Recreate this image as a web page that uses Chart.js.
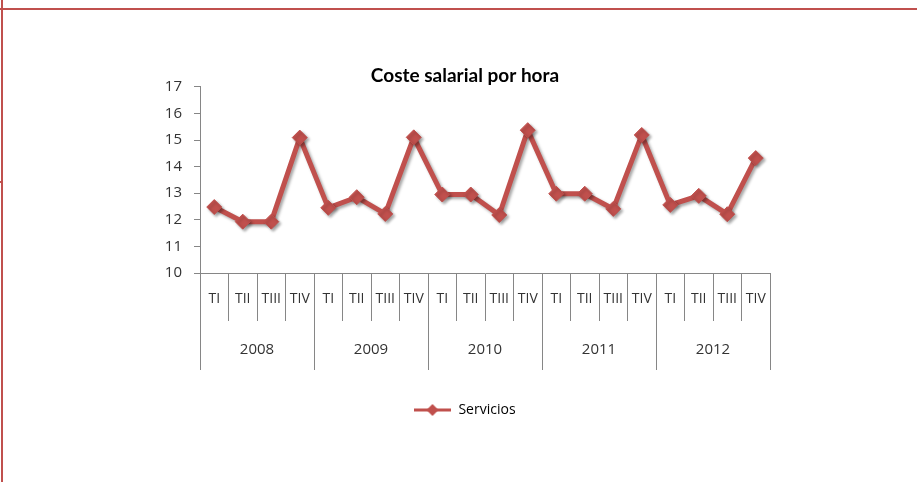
<!DOCTYPE html>
<html>
<head>
<meta charset="utf-8">
<script src="https://cdn.jsdelivr.net/npm/chart.js@4.4.1/dist/chart.umd.min.js"></script>
<style>
  html, body { margin: 0; padding: 0; background: #fff; }
  #wrap { position: relative; width: 917px; height: 482px; overflow: hidden; }
  .frameTop { position: absolute; left: 0; top: 8px; width: 917px; height: 2px; background: #C0504D; }
  .frameLeft { position: absolute; left: 1px; top: 0; width: 2px; height: 482px; background: #C0504D; }
  .mark { position: absolute; left: 0; top: 181px; width: 3px; height: 2px; background: #C0504D; }
  canvas { position: absolute; left: 0; top: 0; }
</style>
</head>
<body>
<div id="wrap">
  <canvas id="myChart" width="917" height="482"></canvas>
  <div class="frameTop"></div>
  <div class="frameLeft"></div>
  <div class="mark"></div>
</div>
<script>
const years = ['2008', '2009', '2010', '2011', '2012'];
const quarters = ['TI', 'TII', 'TIII', 'TIV'];
const labels = years.flatMap(() => quarters);
const servicios = [
  12.48, 11.93, 11.93, 15.09,
  12.45, 12.85, 12.22, 15.10,
  12.95, 12.95, 12.18, 15.37,
  12.98, 12.98, 12.41, 15.19,
  12.56, 12.90, 12.21, 14.32
];

const red = '#C0504D';
const axisGray = '#868686';
const sans = '"Open Sans", sans-serif';

// legend icon: line with a diamond in the middle
const legendIcon = document.createElement('canvas');
legendIcon.width = 37;
legendIcon.height = 14;
(function () {
  const c = legendIcon.getContext('2d');
  c.strokeStyle = red;
  c.lineWidth = 3;
  c.beginPath();
  c.moveTo(0, 7);
  c.lineTo(37, 7);
  c.stroke();
  c.fillStyle = red;
  c.beginPath();
  c.moveTo(18, 1);
  c.lineTo(24, 7);
  c.lineTo(18, 13);
  c.lineTo(12, 7);
  c.closePath();
  c.fill();
})();

const shadowPlugin = {
  id: 'shadow',
  beforeDatasetsDraw(chart) {
    const ctx = chart.ctx;
    ctx.save();
    ctx.shadowColor = 'rgba(0,0,0,0.35)';
    ctx.shadowBlur = 3;
    ctx.shadowOffsetX = 2;
    ctx.shadowOffsetY = 2;
  },
  afterDatasetsDraw(chart) {
    chart.ctx.restore();
  }
};

// year separators and year labels under the quarter labels
const yearAxisPlugin = {
  id: 'yearAxis',
  afterDraw(chart) {
    const ctx = chart.ctx;
    const x = chart.scales.x;
    const top = chart.chartArea.bottom;
    const half = (x.getPixelForValue(1) - x.getPixelForValue(0)) / 2;
    ctx.save();
    ctx.strokeStyle = axisGray;
    ctx.lineWidth = 1;
    for (let i = 0; i <= years.length; i++) {
      const px = Math.round(x.getPixelForValue(i * 4) - half) + 0.5;
      ctx.beginPath();
      ctx.moveTo(px, top);
      ctx.lineTo(px, top + 97);
      ctx.stroke();
    }
    ctx.fillStyle = '#333';
    ctx.font = '15px ' + sans;
    ctx.textAlign = 'center';
    ctx.textBaseline = 'middle';
    years.forEach((y, i) => {
      const cx = (x.getPixelForValue(i * 4) + x.getPixelForValue(i * 4 + 3)) / 2;
      ctx.fillText(y, cx, top + 77);
    });
    ctx.restore();
  }
};

Chart.defaults.font.family = sans;
Chart.defaults.color = '#333';

new Chart(document.getElementById('myChart').getContext('2d'), {
  type: 'line',
  data: {
    labels: labels,
    datasets: [{
      label: 'Servicios',
      data: servicios,
      borderColor: red,
      backgroundColor: red,
      borderWidth: 5,
      pointStyle: 'rectRot',
      pointRadius: 7.5,
      pointBackgroundColor: red,
      pointBorderColor: red,
      pointBorderWidth: 1,
      tension: 0
    }]
  },
  options: {
    responsive: false,
    devicePixelRatio: 1,
    animation: false,
    layout: { padding: { left: 160, right: 147, top: 64, bottom: 55 } },
    plugins: {
      title: {
        display: true,
        text: 'Coste salarial por hora',
        color: '#000',
        font: { family: 'Lato', size: 19, weight: 'bold' },
        padding: { top: 0, bottom: 0 }
      },
      legend: {
        position: 'bottom',
        labels: {
          usePointStyle: true,
          pointStyleWidth: 37,
          padding: 33,
          font: { family: sans, size: 14 },
          color: '#333',
          generateLabels(chart) {
            return chart.data.datasets.map((ds, i) => ({
              text: ds.label,
              pointStyle: legendIcon,
              fillStyle: red,
              strokeStyle: red,
              lineWidth: 0,
              datasetIndex: i
            }));
          }
        }
      },
      tooltip: { enabled: false }
    },
    scales: {
      x: {
        offset: true,
        afterFit(scale) { scale.height = 97; },
        grid: {
          offset: true,
          drawOnChartArea: false,
          drawTicks: true,
          tickLength: 48,
          color: axisGray
        },
        border: { color: axisGray },
        ticks: { padding: -30, font: { family: sans, size: 14 }, color: '#333', maxRotation: 0, autoSkip: false }
      },
      y: {
        min: 10,
        max: 17,
        afterFit(scale) { scale.width = 40; },
        grid: { drawOnChartArea: false, tickLength: 6, color: axisGray },
        border: { color: axisGray },
        ticks: { stepSize: 1, padding: 12, font: { family: sans, size: 15 }, color: '#333' }
      }
    }
  },
  plugins: [shadowPlugin, yearAxisPlugin]
});
</script>
</body>
</html>
